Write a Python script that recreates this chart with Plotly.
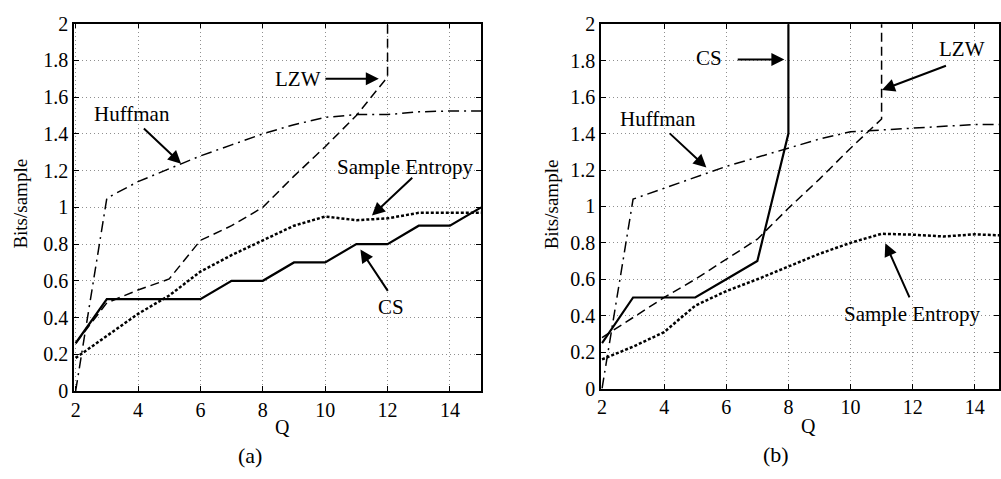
import plotly.graph_objects as go

# ---------------- data (panel a) ----------------
q_a = [2, 3, 4, 5, 6, 7, 8, 9, 10, 11, 12, 13, 14, 15]
cs_a = [0.26, 0.5, 0.5, 0.5, 0.5, 0.6, 0.6, 0.7, 0.7, 0.8, 0.8, 0.9, 0.9, 1.0]
entropy_a = [0.18, 0.30, 0.42, 0.52, 0.65, 0.74, 0.82, 0.90, 0.95, 0.93, 0.94, 0.97, 0.97, 0.97]
huffman_a = [0.0, 1.05, 1.14, 1.21, 1.28, 1.34, 1.40, 1.45, 1.49, 1.505, 1.505, 1.52, 1.525, 1.525]
q_lzw_a = [2, 3, 4, 5, 6, 7, 8, 9, 10, 11, 12, 12]
lzw_a = [0.26, 0.48, 0.55, 0.61, 0.82, 0.90, 1.00, 1.17, 1.33, 1.50, 1.71, 3.0]

# ---------------- data (panel b) ----------------
q_b = [2, 3, 4, 5, 6, 7, 8, 9, 10, 11, 12, 13, 14, 15]
entropy_b = [0.16, 0.23, 0.31, 0.455, 0.535, 0.60, 0.67, 0.74, 0.80, 0.85, 0.845, 0.835, 0.847, 0.84]
huffman_b = [0.0, 1.04, 1.10, 1.16, 1.22, 1.27, 1.32, 1.37, 1.41, 1.42, 1.43, 1.44, 1.45, 1.45]
q_cs_b = [2, 3, 4, 5, 6, 7, 8, 8]
cs_b = [0.25, 0.5, 0.5, 0.5, 0.6, 0.7, 1.4, 3.0]
q_lzw_b = [2, 3, 4, 5, 6, 7, 8, 9, 10, 11, 11]
lzw_b = [0.28, 0.39, 0.50, 0.60, 0.71, 0.82, 0.99, 1.15, 1.32, 1.48, 3.0]

x_ticks = [2, 4, 6, 8, 10, 12, 14]
y_ticks = [0, 0.2, 0.4, 0.6, 0.8, 1, 1.2, 1.4, 1.6, 1.8, 2]

FONT = "Liberation Serif"
W, H = 1001, 479

fig = go.Figure()

def add_series(x, y, dash, width, xa, ya):
    fig.add_trace(go.Scatter(x=x, y=y, mode="lines",
                             line=dict(color="black", width=width, dash=dash),
                             xaxis=xa, yaxis=ya, showlegend=False,
                             hoverinfo="skip"))

styles = {
    "cs": ("solid", 2.2),
    "lzw": ("9px,5px", 1.5),
    "huff": ("11px,5px,2px,5px", 1.5),
    "ent": ("3px,2px", 2.5),
}

add_series(q_a, huffman_a, *styles["huff"], "x", "y")
add_series(q_lzw_a, lzw_a, *styles["lzw"], "x", "y")
add_series(q_a, entropy_a, *styles["ent"], "x", "y")
add_series(q_a, cs_a, *styles["cs"], "x", "y")

add_series(q_b, huffman_b, *styles["huff"], "x2", "y2")
add_series(q_lzw_b, lzw_b, *styles["lzw"], "x2", "y2")
add_series(q_b, entropy_b, *styles["ent"], "x2", "y2")
add_series(q_cs_b, cs_b, *styles["cs"], "x2", "y2")

axis_common = dict(
    showline=True, linecolor="black", linewidth=1.6, mirror="allticks",
    ticks="inside", ticklen=5, tickwidth=1.2, tickcolor="black",
    showgrid=True, gridcolor="#8f8f8f", gridwidth=1, griddash="1px,3px",
    zeroline=False, tickfont=dict(family=FONT, size=20, color="black"),
)

fig.update_layout(
    width=W, height=H,
    margin=dict(l=0, r=0, t=0, b=0),
    paper_bgcolor="white", plot_bgcolor="white",
    xaxis=dict(domain=[70.5 / W, 480 / W], range=[1.95, 15.0],
               tickvals=x_ticks, anchor="y", **axis_common),
    yaxis=dict(domain=[(H - 398.3) / H, (H - 13.3) / H], range=[0, 2],
               tickvals=y_ticks, anchor="x", **axis_common),
    xaxis2=dict(domain=[600.7 / W, 1.0], range=[1.97, 14.78],
                tickvals=x_ticks, anchor="y2", **axis_common),
    yaxis2=dict(domain=[(H - 395.7) / H, (H - 14) / H], range=[0, 2],
                tickvals=y_ticks, anchor="x2", **axis_common),
)

ann = []

def label(text, x, y, xr, yr, size=21):
    ann.append(dict(text=text, x=x, y=y, xref=xr, yref=yr, showarrow=False,
                    font=dict(family=FONT, size=size, color="black"),
                    xanchor="center", yanchor="middle"))

def arrow(hx, hy, tx, ty, xr, yr):
    ann.append(dict(text="", x=hx, y=hy, ax=tx, ay=ty, xref=xr, yref=yr,
                    axref=xr, ayref=yr, showarrow=True, arrowhead=2,
                    arrowsize=1.3, arrowwidth=2, arrowcolor="black",
                    standoff=0, startstandoff=0))

# panel (a) annotations
label("Huffman", 3.81, 1.508, "x", "y")
arrow(5.38, 1.238, 4.14, 1.437, "x", "y")
label("LZW", 9.14, 1.70, "x", "y")
arrow(11.72, 1.70, 9.96, 1.70, "x", "y")
label("Sample Entropy", 12.56, 1.222, "x", "y")
arrow(11.5, 0.955, 12.84, 1.169, "x", "y")
label("CS", 12.11, 0.459, "x", "y")
arrow(11.13, 0.77, 12.04, 0.537, "x", "y")

# panel (b) annotations
label("CS", 5.45, 1.816, "x2", "y2")
arrow(7.87, 1.807, 6.32, 1.807, "x2", "y2")
label("Huffman", 3.79, 1.481, "x2", "y2")
arrow(5.36, 1.214, 4.13, 1.409, "x2", "y2")
label("LZW", 13.59, 1.866, "x2", "y2")
arrow(11.01, 1.64, 13.12, 1.776, "x2", "y2")
label("Sample Entropy", 11.98, 0.407, "x2", "y2")
arrow(11.12, 0.798, 11.92, 0.492, "x2", "y2")

# axis titles and panel captions (paper coordinates)
def ptext(text, px, py, size=19, angle=0, family=FONT):
    ann.append(dict(text=text, x=px / W, y=1 - py / H, xref="paper", yref="paper",
                    showarrow=False, textangle=angle,
                    font=dict(family=family, size=size, color="black"),
                    xanchor="center", yanchor="middle"))

ptext("Q", 280.5, 436, size=20)
ptext("Q", 809.5, 435, size=20)
ptext("Bits/sample", 17, 202, size=19, angle=-90)
ptext("Bits/sample", 551, 203, size=19, angle=-90)
ptext("(a)", 247, 466, size=22)
ptext("(b)", 777, 465, size=22)

fig.update_layout(annotations=ann)

fig.write_html("out.html")
